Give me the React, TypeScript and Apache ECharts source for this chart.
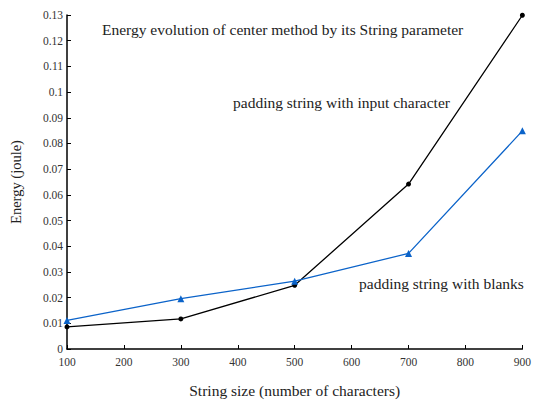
import React, { useEffect, useRef } from "react";
import * as echarts from "echarts";

const sizes = [100, 300, 500, 700, 900];
const inputCharEnergy = [0.0086, 0.0117, 0.0248, 0.0642, 0.1299];
const blanksEnergy = [0.0111, 0.0196, 0.0264, 0.0372, 0.0849];
const titleText = "Energy evolution of center method by its String parameter";
const inputLabel = "padding string with input character";
const blanksLabel = "padding string with blanks";
const xName = "String size (number of characters)";
const yName = "Energy (joule)";

const FONT = "'Liberation Serif', 'Times New Roman', serif";

export default function App() {
  const ref = useRef<HTMLDivElement>(null);
  useEffect(() => {
    document.body.style.margin = "0";
    const chart = echarts.init(ref.current!, null, { renderer: "svg" });
    chart.setOption({
      animation: false,
      backgroundColor: "#ffffff",
      textStyle: { fontFamily: FONT },
      grid: { left: 64.5, right: 11.5, top: 15, bottom: 51, containLabel: false },
      xAxis: {
        type: "value",
        min: 100,
        max: 900,
        interval: 100,
        name: xName,
        nameLocation: "middle",
        nameGap: 33,
        nameTextStyle: { fontFamily: FONT, fontSize: 15.5, color: "#222" },
        axisLine: { lineStyle: { color: "#000", width: 1.5 } },
        axisTick: { inside: true, length: 4, lineStyle: { color: "#000" } },
        axisLabel: { fontFamily: FONT, fontSize: 11.5, color: "#333", margin: 7 },
        splitLine: { show: false },
      },
      yAxis: {
        type: "value",
        min: 0,
        max: 0.13,
        interval: 0.01,
        name: yName,
        nameLocation: "middle",
        nameGap: 44,
        nameTextStyle: { fontFamily: FONT, fontSize: 14.5, color: "#222" },
        axisLine: { show: true, lineStyle: { color: "#000", width: 1.5 } },
        axisTick: { show: true, inside: true, length: 4, lineStyle: { color: "#000" } },
        axisLabel: {
          fontFamily: FONT,
          fontSize: 11.5,
          color: "#333",
          margin: 4,
          formatter: (v: number) => String(parseFloat(v.toFixed(2))),
        },
        splitLine: { show: false },
      },
      graphic: [
        {
          type: "text",
          left: 102,
          top: 21,
          style: { text: titleText, font: `15.5px ${FONT}`, fill: "#222" },
        },
        {
          type: "text",
          left: 233,
          top: 94,
          style: { text: inputLabel, font: `15.5px ${FONT}`, fill: "#222" },
        },
        {
          type: "text",
          left: 359,
          top: 275,
          style: { text: blanksLabel, font: `15.5px ${FONT}`, fill: "#222" },
        },
      ],
      series: [
        {
          type: "line",
          data: sizes.map((s, i) => [s, inputCharEnergy[i]]),
          symbol: "circle",
          symbolSize: 5,
          itemStyle: { color: "#000" },
          lineStyle: { color: "#000", width: 1.3 },
        },
        {
          type: "line",
          data: sizes.map((s, i) => [s, blanksEnergy[i]]),
          symbol: "triangle",
          symbolSize: 7,
          itemStyle: { color: "#0b63c9" },
          lineStyle: { color: "#0b63c9", width: 1.3 },
        },
      ],
    });
    return () => chart.dispose();
  }, []);
  return <div ref={ref} style={{ width: 534, height: 403 }} />;
}
